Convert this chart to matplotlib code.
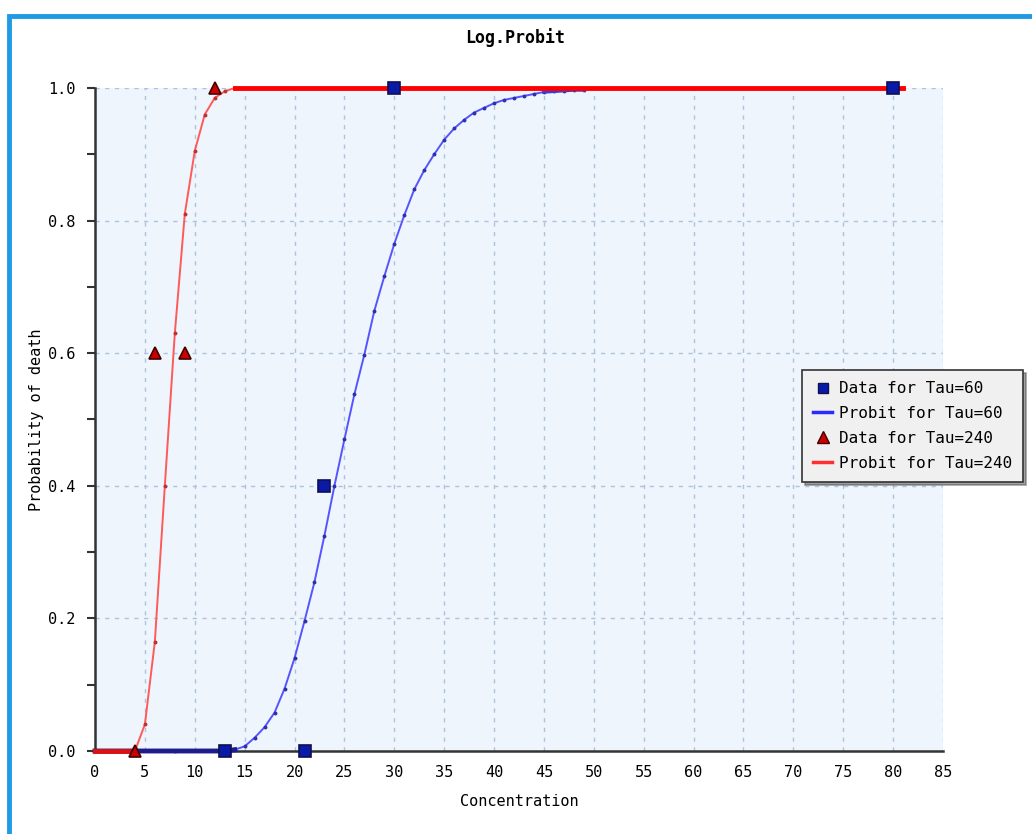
import matplotlib.pyplot as plt
from matplotlib.patches import Rectangle
from matplotlib.lines import Line2D
import numpy as np

# measured data points
tau60_x = [13, 21, 23, 30, 80]
tau60_y = [0.0, 0.0, 0.4, 1.0, 1.0]
tau240_x = [4, 6, 9, 12]
tau240_y = [0.0, 0.6, 0.6, 1.0]

# probit curves
fit60_x = [0, 4, 8, 13, 14, 15, 16, 17, 18, 19, 20, 21, 22, 23, 24, 25, 26, 27, 28, 29, 30,
           31, 32, 33, 34, 35, 36, 37, 38, 39, 40, 41, 42, 43, 44, 45, 46, 47, 48, 49]
fit60_y = [0.0, 0.0, 0.0, 0.0, 0.002, 0.007, 0.02, 0.036, 0.058, 0.094, 0.14, 0.196, 0.255,
           0.325, 0.40, 0.47, 0.538, 0.598, 0.664, 0.716, 0.765, 0.808, 0.847, 0.876, 0.90,
           0.922, 0.939, 0.952, 0.963, 0.970, 0.977, 0.982, 0.985, 0.988, 0.991, 0.994,
           0.995, 0.996, 0.997, 0.997]
fit240_x = [0, 2, 4, 5, 6, 7, 8, 9, 10, 11, 12, 13, 14, 20, 40, 60, 81]
fit240_y = [0.0, 0.0, 0.0, 0.04, 0.165, 0.40, 0.63, 0.81, 0.905, 0.96, 0.985, 0.995, 1.0,
            1.0, 1.0, 1.0, 1.0]

x_ticks = list(range(0, 90, 5))
y_ticks = [0.0, 0.2, 0.4, 0.6, 0.8, 1.0]

mono = 'DejaVu Sans Mono'
plt.rcParams['font.family'] = mono

fig = plt.figure(figsize=(10.32, 8.34), dpi=100)
fig.patch.set_facecolor('white')
# blue frame around the chart
fig.patches.append(Rectangle((9/1032, -0.05), 1.1, 1 - 16/834 + 0.05, transform=fig.transFigure,
                             fill=False, edgecolor='#1f9be6', linewidth=3.5))

ax = fig.add_axes([95/1032, 1 - 751/834, 848/1032, 663/834])
ax.set_facecolor('#eef5fc')
ax.set_xlim(0, 85)
ax.set_ylim(0, 1)

ax.grid(True, linestyle=(0, (3, 4)), color='#aec2da', linewidth=1)
ax.set_xticks(x_ticks)
ax.set_yticks(y_ticks)
ax.set_yticks(np.arange(0.1, 1.0, 0.2), minor=True)
ax.set_yticklabels(['%.1f' % v for v in y_ticks])
ax.tick_params(axis='y', which='both', direction='out', length=6, width=1.5, color='#333333',
               labelsize=11, pad=8)
ax.tick_params(axis='x', length=0, labelsize=11, pad=10)
for s in ['top', 'right']:
    ax.spines[s].set_visible(False)
for s in ['left', 'bottom']:
    ax.spines[s].set_color('#333333')
    ax.spines[s].set_linewidth(1.8)

f60x = np.array(fit60_x)
f60y = np.array(fit60_y)
f240x = np.array(fit240_x)
f240y = np.array(fit240_y)

# probit for tau=60
ax.plot(f60x, f60y, color='#5555ff', lw=1.4, marker='o', ms=1.8, mfc='#3030a8', mec='#3030a8',
        zorder=3, clip_on=False)
flat0 = f60y <= 0.002
ax.plot(f60x[flat0], f60y[flat0], color='#1c1c8a', lw=3.5, zorder=3, clip_on=False)
top60 = f60y >= 0.994
ax.plot(f60x[top60], f60y[top60], color='#3b3bd6', lw=2.5, zorder=3, clip_on=False)

# probit for tau=240
ax.plot(f240x, f240y, color='#ff5a5a', lw=1.4, marker='o', ms=1.8, mfc='#c03030', mec='#c03030',
        zorder=4, clip_on=False)
low = f240y <= 0.0
high = f240y >= 1.0
ax.plot(f240x[low], f240y[low], color='#dd1111', lw=3.5, zorder=4, clip_on=False)
ax.plot(f240x[high], f240y[high], color='#ff0000', lw=3.5, zorder=4, clip_on=False)

ax.plot(tau60_x, tau60_y, 's', color='#0a1aa8', mec='#101050', ms=9, mew=1.2, zorder=5,
        clip_on=False)
ax.plot(tau240_x, tau240_y, '^', color='#cc0000', mec='#400000', ms=9, mew=1.2, zorder=5,
        clip_on=False)

ax.set_xlabel('Concentration', fontsize=11, labelpad=10)
ax.set_ylabel('Probability of death', fontsize=11, labelpad=3)
fig.text(515/1032, 1 - 38/834, 'Log.Probit', ha='center', va='center', fontsize=12,
         fontweight='bold')

handles = [
    Line2D([], [], ls='none', marker='s', color='#0a1aa8', mec='#101050', ms=7),
    Line2D([], [], color='#2a2aff', lw=2.5),
    Line2D([], [], ls='none', marker='^', color='#cc0000', mec='#400000', ms=8),
    Line2D([], [], color='#ff3030', lw=2.5),
]
labels = ['Data for Tau=60', 'Probit for Tau=60', 'Data for Tau=240', 'Probit for Tau=240']
leg = fig.legend(handles, labels, loc='upper left', bbox_to_anchor=(794/1032, 1 - 362/834),
                 fontsize=11.5, frameon=True, fancybox=False, shadow=True, handlelength=1.2,
                 handletextpad=0.4, borderpad=0.7, labelspacing=0.62)
leg.get_frame().set_facecolor('#f0f0f0')
leg.get_frame().set_edgecolor('#333333')
leg.get_frame().set_linewidth(1.2)

fig.savefig('out.png', dpi=100)
